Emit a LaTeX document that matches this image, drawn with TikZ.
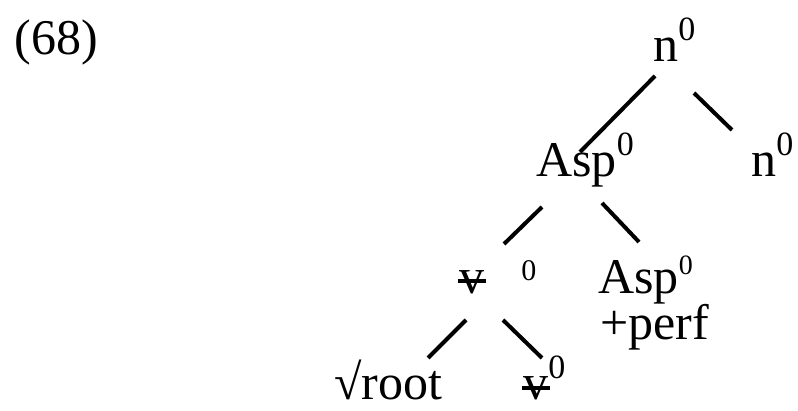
\documentclass[tikz,border=0pt]{standalone}
\usepackage{fontspec}
\setmainfont{Liberation Serif}
\usetikzlibrary{positioning}
\newcommand{\zsup}{\raisebox{0.42em}{\fontsize{17}{17}\selectfont 0}}
\newcommand{\strikev}{\makebox[0pt][l]{\kern-0.03em\rule[0.19em]{0.57em}{0.085em}}v}
\begin{document}
\begin{tikzpicture}[
  x=0.5pt, y=-0.5pt,
  lbl/.style={font=\fontsize{25}{30}\selectfont, inner sep=0pt, anchor=base west},
  br/.style={line width=2pt},
]
\useasboundingbox (0,0) rectangle (798,411);
\node[lbl] (ex) at (14,55) {(68)};
\node[lbl] (top) at (653,62) {n\zsup};
\node[lbl] (asp1) at (536,177) {Asp\zsup};
\node[lbl] (nright) at (751,177) {n\zsup};
\node[lbl] (vtop) at (459,293) {\strikev\hspace{18.5pt}\raisebox{6pt}{\fontsize{15}{15}\selectfont 0}};
\node[lbl] (asp2) at (598,294) {Asp\raisebox{0.4em}{\fontsize{14}{14}\selectfont 0}};
\node[lbl] (perf) at (600,340) {+perf};
\node[lbl] (root) at (334,400) {√root};
\node[lbl] (vbot) at (523,400) {\strikev\zsup};
% branches
\draw[br] ([xshift=1pt,yshift=-7pt]top.base west) -- ([xshift=22pt,yshift=12.5pt]asp1.base west);
\draw[br] ([xshift=20.5pt,yshift=-15.5pt]top.base west) -- ([xshift=-9.5pt,yshift=23.5pt]nright.base west);
\draw[br] ([xshift=3pt,yshift=-15pt]asp1.base west) -- ([xshift=22.5pt,yshift=24.5pt]vtop.base west);
\draw[br] ([xshift=33pt,yshift=-13pt]asp1.base west) -- ([xshift=20.5pt,yshift=26pt]asp2.base west);
\draw[br] ([xshift=3.5pt,yshift=-13.5pt]vtop.base west) -- ([xshift=47pt,yshift=21pt]root.base west);
\draw[br] ([xshift=22pt,yshift=-13.5pt]vtop.base west) -- ([xshift=9.5pt,yshift=21pt]vbot.base west);
\end{tikzpicture}
\end{document}
